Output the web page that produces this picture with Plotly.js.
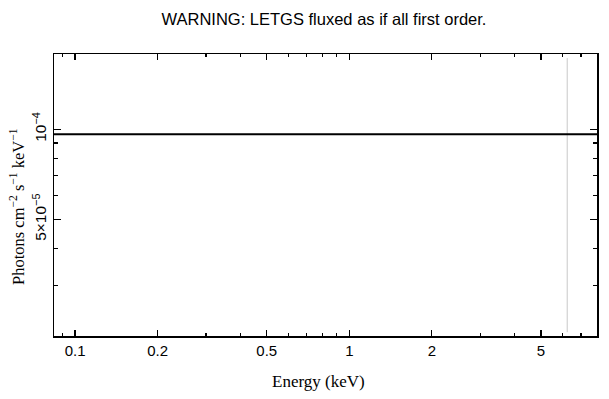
<!DOCTYPE html>
<html>
<head>
<meta charset="utf-8">
<script src="https://cdn.plot.ly/plotly-3.0.1.min.js"></script>
<style>html,body{margin:0;padding:0;background:#fff;}</style>
</head>
<body>
<div id="chart" style="width:609px;height:399px;"></div>
<script>
// Spectrum model (flat) in photons cm^-2 s^-1 keV^-1
const energy = [0.08, 8.2];
const flux = [9.63e-5, 9.63e-5];
// Gray vertical marker line
const markerEnergy = [6.23, 6.23];
const markerFlux = [1.73e-4, 2.10e-5];

const xTickVals = [0.1, 0.2, 0.5, 1, 2, 5];
const xTickText = ['0.1', '0.2', '0.5', '1', '2', '5'];
const xMinorVals = [0.09, 0.3, 0.4, 0.6, 0.7, 0.8, 0.9, 3, 4, 6, 7];
const yTickVals = [5e-5, 1e-4];
const yTickText = ['5×10<sup>−5</sup>', '10<sup>−4</sup>'];
const yMinorVals = [3e-5, 4e-5, 6e-5, 7e-5, 8e-5, 9e-5];

const xRange = [0.0838, 8.0];
const yRange = [2.04e-5, 1.786e-4];

const serif = 'Liberation Serif, Times New Roman, serif';
const sans = 'Liberation Sans, Arial, sans-serif';

const traces = [
  {x: markerEnergy, y: markerFlux, mode: 'lines', line: {color: '#c8c8c8', width: 1}, hoverinfo: 'skip'},
  {x: energy, y: flux, mode: 'lines', line: {color: '#000', width: 2}}
];

const layout = {
  width: 609, height: 399,
  margin: {l: 54, r: 12, t: 54, b: 63},
  paper_bgcolor: '#fff', plot_bgcolor: '#fff',
  showlegend: false,
  title: {text: 'WARNING: LETGS fluxed as if all first order.', font: {family: sans, size: 16.5, color: '#000'}, x: 0.532, xanchor: 'center', y: 0.953, yanchor: 'middle'},
  xaxis: {
    type: 'log', range: xRange.map(Math.log10),
    tickmode: 'array', tickvals: xTickVals, ticktext: xTickText,
    ticks: 'inside', ticklen: 6, tickwidth: 1.2, tickcolor: '#000',
    minor: {tickmode: 'array', tickvals: xMinorVals, ticks: 'inside', ticklen: 3, tickwidth: 1.2, tickcolor: '#000'},
    showline: true, linecolor: '#000', linewidth: 1.5, mirror: 'ticks',
    showgrid: false, zeroline: false,
    tickfont: {family: sans, size: 15, color: '#000'}
  },
  yaxis: {
    type: 'log', range: yRange.map(Math.log10),
    tickmode: 'array', tickvals: yTickVals, ticktext: yTickText,
    ticks: 'inside', ticklen: 7, tickwidth: 1.2, tickcolor: '#000', tickangle: -90,
    minor: {tickmode: 'array', tickvals: yMinorVals, ticks: 'inside', ticklen: 4, tickwidth: 1.2, tickcolor: '#000'},
    showline: true, linecolor: '#000', linewidth: 1.5, mirror: 'ticks',
    showgrid: false, zeroline: false,
    tickfont: {family: sans, size: 15.5, color: '#000'}
  },
  annotations: [
    {text: 'Energy (keV)', xref: 'paper', yref: 'paper', x: 0.488, y: -0.16, xanchor: 'center', yanchor: 'middle', showarrow: false, font: {family: serif, size: 17, color: '#000'}},
    {text: 'Photons cm<sup>−2</sup> s<sup>−1</sup> keV<sup>−1</sup>', xref: 'paper', yref: 'paper', x: -0.0663, y: 0.461, xanchor: 'center', yanchor: 'middle', textangle: -90, showarrow: false, font: {family: serif, size: 16.5, color: '#000'}}
  ]
};

Plotly.newPlot('chart', traces, layout, {displayModeBar: false, staticPlot: true});
</script>
</body>
</html>
